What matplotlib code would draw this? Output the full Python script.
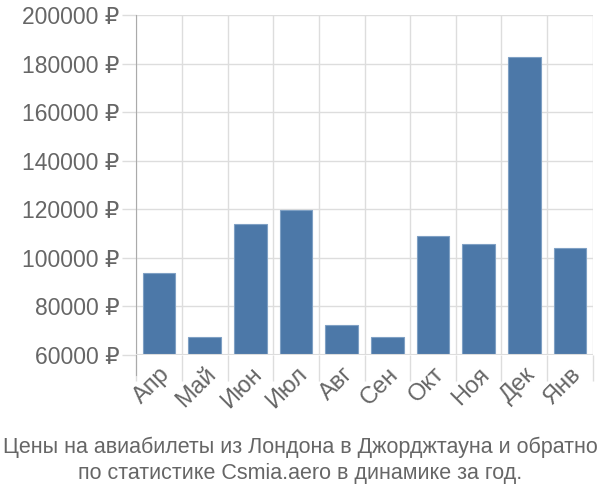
import matplotlib.pyplot as plt
from matplotlib.ticker import FuncFormatter

plt.rcParams['font.family'] = ['Liberation Sans', 'DejaVu Sans']

months = ['Апр', 'Май', 'Июн', 'Июл', 'Авг', 'Сен', 'Окт', 'Ноя', 'Дек', 'Янв']
prices = [93600, 67300, 113800, 119600, 72400, 67300, 108800, 105900, 182600, 104000]
y_ticks = [60000, 80000, 100000, 120000, 140000, 160000, 180000, 200000]

grid_col = '#dddddd'
text_col = '#666666'

fig = plt.figure(figsize=(6, 5), dpi=100)
ax = fig.add_axes([0.227, 0.29, 0.761, 0.68])

x = list(range(len(months)))
ax.bar(x, prices, width=0.72, color='#4c78a8', edgecolor='#7fa0c4', linewidth=0.8, zorder=3)

ax.set_xlim(-0.5, len(months) - 0.5)
ax.set_ylim(60000, 200000)
ax.set_yticks(y_ticks)
ax.yaxis.set_major_formatter(FuncFormatter(lambda v, p: f'{int(v)} ₽'))

# category boundaries for the vertical grid, labels centred on bars
ax.set_xticks([i - 0.5 for i in range(len(months) + 1)])
ax.set_xticklabels([])
ax.set_xticks(x, minor=True)
ax.set_xticklabels(months, minor=True, rotation=45, ha='right', rotation_mode='anchor',
                   fontsize=17, color=text_col)
ax.tick_params(axis='x', which='major', length=19, color=grid_col, width=1)
ax.tick_params(axis='x', which='minor', length=0, pad=6)
ax.tick_params(axis='y', length=10, color=grid_col, width=1, labelsize=16.5, labelcolor=text_col, pad=2)

ax.grid(True, color=grid_col, linewidth=1, zorder=0)
for s in ['top', 'right', 'bottom']:
    ax.spines[s].set_visible(False)
ax.spines['left'].set_color('#aaaaaa')
ax.spines['left'].set_bounds(51800, 200000)
ax.axhline(60000, color=grid_col, linewidth=1.5, zorder=4)

fig.text(0.5, 0.08, 'Цены на авиабилеты из Лондона в Джорджтауна и обратно\nпо статистике Csmia.aero в динамике за год.',
         ha='center', va='center', fontsize=15.5, color=text_col, linespacing=1.3)

fig.savefig('out.png', dpi=100)
